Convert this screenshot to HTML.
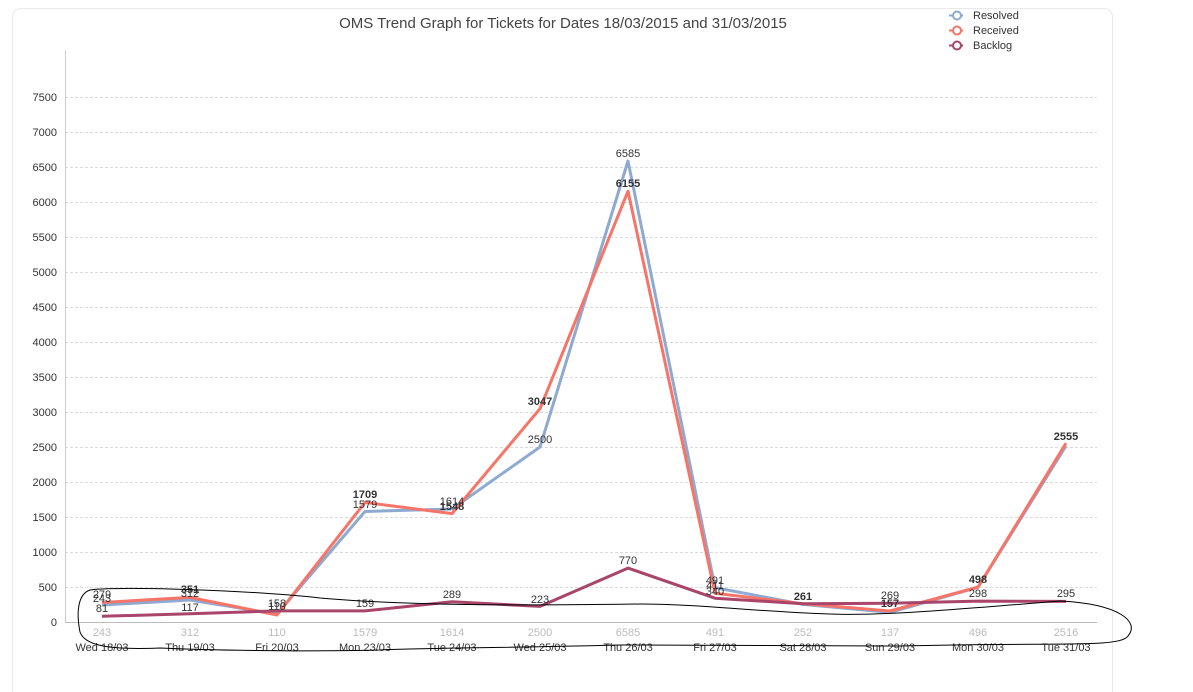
<!DOCTYPE html>
<html><head><meta charset="utf-8"><style>
body{margin:0;background:#fff;}
svg{display:block;font-family:"Liberation Sans",sans-serif;}
</style></head><body>
<svg width="1193" height="692" viewBox="0 0 1193 692">
<rect x="12.5" y="8.5" width="1100" height="700" rx="8" fill="#fff" stroke="#ebe8ec"/>
<text x="563" y="28" font-size="15" fill="#444" text-anchor="middle">OMS Trend Graph for Tickets for Dates 18/03/2015 and 31/03/2015</text>
<g stroke="#dadada" stroke-dasharray="3,2" stroke-width="1">
<line x1="65" x2="1097" y1="587.5" y2="587.5"/><line x1="65" x2="1097" y1="552.5" y2="552.5"/>
<line x1="65" x2="1097" y1="517.5" y2="517.5"/><line x1="65" x2="1097" y1="482.5" y2="482.5"/>
<line x1="65" x2="1097" y1="447.5" y2="447.5"/><line x1="65" x2="1097" y1="412.5" y2="412.5"/>
<line x1="65" x2="1097" y1="377.5" y2="377.5"/><line x1="65" x2="1097" y1="342.5" y2="342.5"/>
<line x1="65" x2="1097" y1="307.5" y2="307.5"/><line x1="65" x2="1097" y1="272.5" y2="272.5"/>
<line x1="65" x2="1097" y1="237.5" y2="237.5"/><line x1="65" x2="1097" y1="202.5" y2="202.5"/>
<line x1="65" x2="1097" y1="167.5" y2="167.5"/><line x1="65" x2="1097" y1="132.5" y2="132.5"/>
<line x1="65" x2="1097" y1="97.5" y2="97.5"/>
</g>
<line x1="65.5" x2="65.5" y1="50" y2="622" stroke="#ccc"/>
<line x1="65" x2="1097" y1="622.5" y2="622.5" stroke="#bbb"/>
<g font-size="11" fill="#333" text-anchor="end">
<text x="57" y="626">0</text><text x="57" y="591">500</text><text x="57" y="556">1000</text>
<text x="57" y="521">1500</text><text x="57" y="486">2000</text><text x="57" y="451">2500</text>
<text x="57" y="416">3000</text><text x="57" y="381">3500</text><text x="57" y="346">4000</text>
<text x="57" y="311">4500</text><text x="57" y="276">5000</text><text x="57" y="241">5500</text>
<text x="57" y="206">6000</text><text x="57" y="171">6500</text><text x="57" y="136">7000</text>
<text x="57" y="101">7500</text>
</g>
<g font-size="11" fill="#bbb" text-anchor="middle">
<text x="102" y="636">243</text><text x="190" y="636">312</text><text x="277" y="636">110</text>
<text x="365" y="636">1579</text><text x="452" y="636">1614</text><text x="540" y="636">2500</text>
<text x="628" y="636">6585</text><text x="715" y="636">491</text><text x="803" y="636">252</text>
<text x="890" y="636">137</text><text x="978" y="636">496</text><text x="1066" y="636">2516</text>
</g>
<g font-size="11" fill="#333" text-anchor="middle">
<text x="102" y="651">Wed 18/03</text><text x="190" y="651">Thu 19/03</text><text x="277" y="651">Fri 20/03</text>
<text x="365" y="651">Mon 23/03</text><text x="452" y="651">Tue 24/03</text><text x="540" y="651">Wed 25/03</text>
<text x="628" y="651">Thu 26/03</text><text x="715" y="651">Fri 27/03</text><text x="803" y="651">Sat 28/03</text>
<text x="890" y="651">Sun 29/03</text><text x="978" y="651">Mon 30/03</text><text x="1066" y="651">Tue 31/03</text>
</g>
<g fill="none" stroke-width="3" stroke-linejoin="round">
<polyline stroke="#8eaad1" points="102,605 190,600 277,614 365,511.5 452,509 540,447 628,161 715,587.6 803,604.4 890,612.4 978,587.3 1066,446"/>
<polyline stroke="#f77468" points="102,602.5 190,597.4 277,615 365,502.4 452,513.6 540,408.7 628,191.2 715,593.2 803,603.8 890,611 978,587.1 1066,443.2"/>
<polyline stroke="#a9446b" points="102,616.3 190,613.8 277,610.9 365,610.9 452,601.8 540,606.4 628,568.1 715,598.2 803,603.7 890,603.2 978,601.1 1066,601.4"/>
</g>
<g font-size="11" fill="#333" text-anchor="middle">
<text x="102" y="598">279</text><text x="102" y="602">243</text><text x="102" y="612">81</text>
<text x="190" y="593" font-weight="bold">351</text><text x="190" y="597">312</text><text x="190" y="611">117</text>
<text x="277" y="607">158</text><text x="277" y="610">110</text>
<text x="365" y="498" font-weight="bold">1709</text><text x="365" y="508">1579</text><text x="365" y="607">159</text>
<text x="452" y="505">1614</text><text x="452" y="510" font-weight="bold">1548</text><text x="452" y="598">289</text>
<text x="540" y="405" font-weight="bold">3047</text><text x="540" y="443">2500</text><text x="540" y="603">223</text>
<text x="628" y="157">6585</text><text x="628" y="187" font-weight="bold">6155</text><text x="628" y="564">770</text>
<text x="715" y="584">491</text><text x="715" y="589">411</text><text x="715" y="595">340</text>
<text x="803" y="600" font-weight="bold">261</text>
<text x="890" y="599">269</text><text x="890" y="607" font-weight="bold">157</text>
<text x="978" y="583" font-weight="bold">498</text><text x="978" y="597">298</text>
<text x="1066" y="440" font-weight="bold">2555</text><text x="1066" y="597">295</text>
</g>
<path d="M90,590 C110,586 250,590 320,598 C400,605 500,606 640,604 C700,604 760,612 830,614 C880,616 950,610 1060,601 C1120,604 1140,622 1128,636 C1120,648 1060,642 900,646 C780,646 700,646 620,645 C500,648 420,648 380,650 C300,652 200,650 160,648 C110,650 85,646 80,632 C76,612 78,594 90,590 Z" fill="none" stroke="#000" stroke-width="1"/>
<g font-size="11" fill="#333">
<line x1="949" x2="963" y1="15.5" y2="15.5" stroke="#8eaad1" stroke-width="2"/><circle cx="957" cy="15.5" r="4" fill="#fff" stroke="#8eaad1" stroke-width="2"/>
<text x="973" y="19">Resolved</text>
<line x1="949" x2="963" y1="30.5" y2="30.5" stroke="#f77468" stroke-width="2"/><circle cx="957" cy="30.5" r="4" fill="#fff" stroke="#f77468" stroke-width="2"/>
<text x="973" y="34">Received</text>
<line x1="949" x2="963" y1="45.5" y2="45.5" stroke="#a9446b" stroke-width="2"/><circle cx="957" cy="45.5" r="4" fill="#fff" stroke="#a9446b" stroke-width="2"/>
<text x="973" y="49">Backlog</text>
</g>
</svg>
</body></html>
